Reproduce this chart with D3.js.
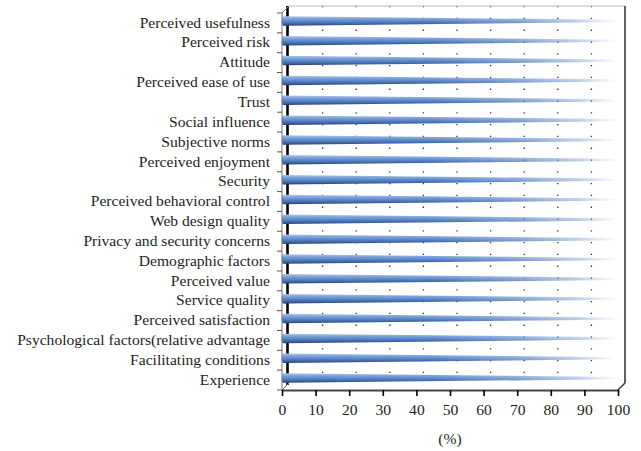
<!DOCTYPE html>
<html>
<head>
<meta charset="utf-8">
<script src="https://cdn.jsdelivr.net/npm/d3@7/dist/d3.min.js"></script>
<style>
  html, body { margin: 0; padding: 0; background: #fff; }
  svg { display: block; }
  text { font-family: "Liberation Serif", "Times New Roman", serif; fill: #231f20; }
</style>
</head>
<body>
<svg id="chart" width="641" height="451"></svg>
<script>
// Factors studied, top to bottom
const categories = [
  "Perceived usefulness",
  "Perceived risk",
  "Attitude",
  "Perceived ease of use",
  "Trust",
  "Social influence",
  "Subjective norms",
  "Perceived enjoyment",
  "Security",
  "Perceived behavioral control",
  "Web design quality",
  "Privacy and security concerns",
  "Demographic factors",
  "Perceived value",
  "Service quality",
  "Perceived satisfaction",
  "Psychological factors(relative advantage",
  "Facilitating conditions",
  "Experience"
];
// Share (%) for each factor
const values = [100, 100, 100, 100, 100, 100, 100, 100, 100, 100, 100, 100, 100, 100, 100, 100, 100, 100, 100];
const xTicks = [0, 10, 20, 30, 40, 50, 60, 70, 80, 90, 100];
const axisTitle = "(%)";

const svg = d3.select("#chart");
const defs = svg.append("defs");
const fontSize = 15.6;

// Front plane of the 3D box and depth offset for the back wall
const front = { left: 282, right: 618, top: 13, bottom: 390 };
const depth = { dx: 7, dy: -7 };

const x = d3.scaleLinear().domain([0, 100]).range([front.left, front.right]);
const y = d3.scaleBand().domain(categories).range([front.top, front.bottom]);

// Cylinder shading across each bar
const shade = defs.append("linearGradient")
  .attr("id", "barShade").attr("x1", 0).attr("y1", 0).attr("x2", 0).attr("y2", 1);
[[0, "#aec8ee"], [0.22, "#84a8de"], [0.5, "#5f8acb"], [0.78, "#4169aa"], [1, "#283f6c"]]
  .forEach(([o, c]) => shade.append("stop").attr("offset", o).attr("stop-color", c));

// Fade toward the far end of each cone
const fade = defs.append("linearGradient")
  .attr("id", "fadeGrad").attr("gradientUnits", "userSpaceOnUse")
  .attr("x1", x(0)).attr("y1", 0).attr("x2", x(100)).attr("y2", 0);
[[0, 1], [0.45, 1], [0.7, 0.75], [0.88, 0.4], [1, 0]]
  .forEach(([o, a]) => fade.append("stop").attr("offset", o).attr("stop-color", "#fff").attr("stop-opacity", a));
defs.append("mask").attr("id", "fadeMask").attr("maskUnits", "userSpaceOnUse")
  .attr("x", 0).attr("y", 0).attr("width", 641).attr("height", 451)
  .append("rect").attr("x", 0).attr("y", 0).attr("width", 641).attr("height", 451)
  .attr("fill", "url(#fadeGrad)");

// Back wall gridlines (dotted)
const bx = v => x(v) + depth.dx;
svg.append("g").selectAll("line")
  .data(xTicks.filter(v => v > 0 && v < 100))
  .join("line")
  .attr("x1", bx).attr("x2", bx)
  .attr("y1", front.top + depth.dy).attr("y2", front.bottom + depth.dy)
  .attr("stroke", "#333").attr("stroke-width", 1.3)
  .attr("stroke-dasharray", "1.3,10.5");

// Box outline: top edge, right edge, back-left edge
svg.append("line")
  .attr("x1", x(0) + depth.dx).attr("x2", x(100) + depth.dx)
  .attr("y1", front.top + depth.dy).attr("y2", front.top + depth.dy)
  .attr("stroke", "#bbb").attr("stroke-width", 1);
svg.append("line")
  .attr("x1", x(100) + depth.dx).attr("x2", x(100) + depth.dx)
  .attr("y1", front.top + depth.dy).attr("y2", front.bottom + depth.dy)
  .attr("stroke", "#222").attr("stroke-width", 1.4);
svg.append("line")
  .attr("x1", x(0) + 5.5).attr("x2", x(0) + 5.5)
  .attr("y1", front.top + depth.dy).attr("y2", front.bottom + depth.dy + 2)
  .attr("stroke", "#000").attr("stroke-width", 2.6);

// Cone-shaped bars
const barOffset = -2;
const h0 = 9.5, h1 = 2.2;
const bars = svg.append("g").attr("mask", "url(#fadeMask)");
categories.forEach((c, i) => {
  const cy = y(c) + y.bandwidth() / 2 + barOffset;
  const xs = x(0) + 1.5, xe = x(values[i]);
  bars.append("path")
    .attr("d", `M${xs},${cy - h0 / 2} L${xe},${cy - h1 / 2} L${xe},${cy + h1 / 2} L${xs},${cy + h0 / 2} Z`)
    .attr("fill", "url(#barShade)");
  bars.append("ellipse")
    .attr("cx", xs).attr("cy", cy).attr("rx", 1.8).attr("ry", h0 / 2)
    .attr("fill", "url(#barShade)");
});

// Front-left edge with category ticks at band boundaries
svg.append("path")
  .attr("d", `M${x(0) + depth.dx},${front.top + depth.dy} L${x(0)},${front.top} L${x(0)},${front.bottom}`)
  .attr("fill", "none").attr("stroke", "#777").attr("stroke-width", 1);
const bounds = categories.map(c => y(c)).concat([front.bottom]);
svg.append("g").selectAll("line").data(bounds).join("line")
  .attr("x1", x(0) - 5).attr("x2", x(0))
  .attr("y1", d => d).attr("y2", d => d)
  .attr("stroke", "#555").attr("stroke-width", 1);

// Category labels
svg.append("g")
  .attr("transform", `translate(${x(0)},0)`)
  .call(d3.axisLeft(y).tickSize(0).tickPadding(12))
  .call(g => g.select(".domain").remove())
  .selectAll("text")
  .attr("font-size", fontSize)
  .attr("dy", "0.3em")
  .style("font-family", "'Liberation Serif', serif")
  .attr("fill", "#231f20");

// Floor edge and bottom axis
svg.append("path")
  .attr("d", `M${x(0)},${front.bottom} L${x(0) + depth.dx},${front.bottom + depth.dy}`)
  .attr("fill", "none").attr("stroke", "#666").attr("stroke-width", 1);
svg.append("path")
  .attr("d", `M${x(100)},${front.bottom} L${x(100) + depth.dx},${front.bottom + depth.dy}`)
  .attr("fill", "none").attr("stroke", "#333").attr("stroke-width", 1.4);
const xAxis = svg.append("g")
  .attr("transform", `translate(0,${front.bottom})`)
  .call(d3.axisBottom(x).tickValues(xTicks).tickSize(6).tickPadding(8).tickSizeOuter(0));
xAxis.select(".domain").attr("stroke", "#444").attr("stroke-width", 1.8);
xAxis.selectAll(".tick line").attr("stroke", "#000").attr("stroke-width", 1.6);
xAxis.selectAll("text")
  .attr("font-size", fontSize)
  .style("font-family", "'Liberation Serif', serif")
  .attr("fill", "#231f20");

// Axis title
svg.append("text")
  .attr("x", (x(0) + x(100)) / 2)
  .attr("y", 444)
  .attr("text-anchor", "middle")
  .attr("font-size", fontSize)
  .text(axisTitle);
</script>
</body>
</html>
